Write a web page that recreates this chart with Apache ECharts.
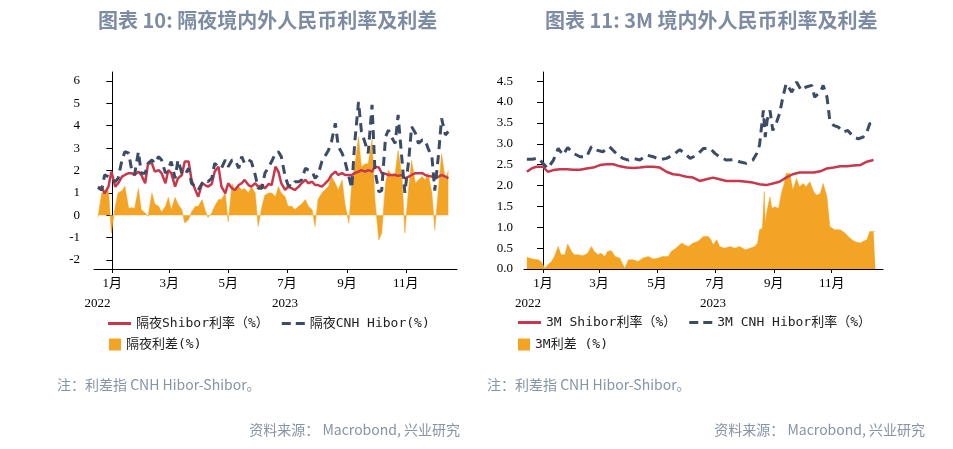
<!DOCTYPE html>
<html>
<head>
<meta charset="utf-8">
<script src="https://cdn.jsdelivr.net/npm/echarts@6/dist/echarts.min.js"></script>
<style>html,body{margin:0;padding:0;background:#fff;}#c{width:953px;height:449px;}</style>
</head>
<body>
<div id="c"></div>
<script>
// x values: days since 2023-01-01
const monthTickDays = [0, 59, 120, 181, 243, 304];
const monthTickLabels = ['1月', '3月', '5月', '7月', '9月', '11月'];

// ---- Chart 10: overnight ----
const onDays = [-15,-11,-8,-4,-1,3,6,10,13,17,20,23,27,30,34,37,41,44,48,51,55,58,61,65,68,72,75,79,82,86,89,93,96,99,103,106,110,113,117,120,124,127,131,134,137,141,144,148,151,155,158,162,165,169,172,175,179,182,186,189,193,196,200,203,207,210,213,217,220,224,227,231,234,238,241,245,248,251,255,258,262,265,269,272,276,279,283,286,289,293,296,300,303,307,310,314,317,321,324,327,331,334,338,341,345,348];
const onShibor = [1.24,1.24,0.98,1.28,1.95,1.28,1.43,1.73,1.80,1.88,
  1.88,1.80,1.95,1.80,1.43,2.32,2.32,1.95,2.02,1.88,
  1.43,2.02,1.88,1.28,1.65,1.80,2.40,2.40,1.58,1.13,
  0.83,1.43,1.35,1.28,1.40,1.95,2.17,1.28,0.98,1.43,
  1.20,1.13,1.35,1.43,1.58,1.35,1.28,1.43,1.28,1.35,
  1.20,1.40,1.35,2.17,1.95,1.43,1.13,1.28,1.20,1.13,
  1.28,1.43,1.58,1.43,1.50,1.35,1.35,1.28,1.40,1.58,
  1.80,1.95,1.80,1.88,1.80,1.80,1.80,1.88,1.95,2.02,
  1.95,2.02,1.95,2.17,2.14,1.88,1.85,1.80,1.80,1.80,
  1.76,1.80,1.65,1.73,1.80,1.88,1.88,1.88,1.80,1.76,
  1.73,1.65,1.73,1.80,1.73,1.65];
const onHibor = [1.24,1.13,1.80,1.73,1.65,1.50,1.65,2.47,2.84,2.77,
  2.02,1.80,2.84,1.88,1.88,2.32,2.47,2.32,2.62,2.47,
  1.88,2.10,2.40,1.65,2.47,1.88,1.80,2.10,1.43,1.28,
  1.13,1.43,1.58,1.50,1.65,2.32,2.17,2.10,2.47,2.17,
  2.47,2.47,2.10,2.62,2.32,2.47,2.40,1.80,1.21,1.21,
  1.88,2.17,2.40,2.77,2.84,2.62,1.73,1.35,1.28,1.50,
  1.50,1.58,2.10,2.02,1.95,1.65,1.80,2.40,2.62,2.92,
  3.29,4.11,3.07,2.77,2.40,1.73,1.21,3.21,5.07,3.74,
  3.21,2.77,4.93,2.00,1.05,1.10,3.51,3.81,3.51,3.21,
  4.48,2.47,1.00,2.47,3.96,3.66,3.21,3.36,3.36,2.99,
  2.62,1.10,2.77,4.33,3.59,3.74];
const onSpread = [-0.10,1.00,1.00,1.10,-0.80,0.40,1.00,1.10,1.30,0.30,
  0.35,0.30,1.20,0.25,0.10,-0.05,1.00,0.50,0.40,0.15,
  0.40,0.80,0.25,0.80,0.50,0.25,-0.35,-0.20,0.15,0.40,
  0.40,0.70,0.25,-0.10,0.10,0.40,0.70,0.70,1.00,-0.30,
  1.40,1.13,1.28,1.13,1.20,1.00,1.28,1.00,-0.50,0.40,
  0.90,1.00,1.00,0.83,1.28,1.00,0.83,0.40,0.40,0.25,
  0.40,0.50,0.70,0.40,0.25,-0.50,0.70,1.00,1.13,1.28,
  1.73,1.43,1.13,1.58,0.50,-0.35,1.43,2.17,3.50,2.17,
  2.30,2.30,3.37,0.70,-1.10,-0.80,1.43,2.02,1.80,1.88,
  2.90,1.73,-0.80,1.28,2.45,1.43,1.58,1.73,1.58,1.88,
  1.00,-0.65,1.28,2.75,1.58,2.00];
const onYTicks = [-2, -1, 0, 1, 2, 3, 4, 5, 6];

// ---- Chart 11: 3M ----
const m3ShiborDays = [-17,-12,-7,0,5,11,18,25,32,39,46,53,60,67,74,81,88,95,102,109,116,123,130,137,144,151,158,165,172,179,186,193,200,207,214,221,228,235,242,249,256,263,270,277,285,292,299,306,313,320,327,334,341,348];
const m3Shibor = [2.33,2.41,2.45,2.45,2.33,2.37,2.39,2.39,2.38,2.38,2.41,2.43,2.49,2.51,2.51,2.46,2.43,2.42,2.43,2.45,2.45,2.43,2.33,2.27,2.25,2.21,2.19,2.11,2.15,2.19,2.15,2.11,2.11,2.11,2.09,2.07,2.03,2.01,2.05,2.09,2.19,2.27,2.31,2.31,2.31,2.34,2.41,2.43,2.46,2.46,2.48,2.49,2.57,2.61];
const m3HiborDays = [-17,-11,-5,0,5,11,16,21,26,32,39,46,51,56,63,70,77,84,90,95,102,109,116,123,130,137,144,149,155,162,169,176,181,186,193,200,207,214,221,225,228,232,234,236,239,242,246,249,253,256,262,267,272,277,283,286,292,295,299,302,306,311,316,321,327,332,337,341,344,350];
const m3Hibor = [2.63,2.63,2.66,2.53,2.41,2.61,2.89,2.73,2.91,2.77,
  2.69,2.69,2.93,2.85,2.81,2.93,2.77,2.65,2.61,2.65,
  2.61,2.73,2.69,2.62,2.65,2.73,2.86,2.77,2.65,2.73,
  2.89,2.89,2.77,2.69,2.61,2.62,2.57,2.53,2.61,2.77,
  2.97,3.80,3.16,3.56,3.80,3.32,3.52,3.72,4.16,4.44,
  4.24,4.48,4.28,4.36,4.40,4.12,4.24,4.40,4.12,3.56,
  3.44,3.40,3.28,3.32,3.16,3.12,3.16,3.28,3.48,3.52];
const m3SpreadDays = [-17,-11,-5,-2,2,5,9,12,16,19,23,26,30,33,37,42,47,51,54,58,61,65,68,72,76,81,86,90,95,100,105,111,116,121,126,132,135,140,146,149,153,158,163,169,174,177,179,183,186,191,197,202,207,213,218,223,226,228,231,233,234,236,239,241,244,248,251,254,256,260,263,267,270,274,277,281,285,288,292,295,299,302,307,313,318,323,328,334,337,341,344,348,350];
const m3Spread = [0.28,0.24,0.22,0.18,0.02,0.10,0.18,0.30,0.54,0.34,
  0.34,0.60,0.42,0.34,0.34,0.32,0.38,0.54,0.42,0.34,
  0.38,0.30,0.42,0.44,0.30,0.26,0.02,0.22,0.22,0.18,
  0.26,0.30,0.24,0.26,0.30,0.30,0.42,0.50,0.62,0.58,
  0.54,0.62,0.66,0.78,0.78,0.70,0.58,0.70,0.54,0.50,
  0.54,0.50,0.54,0.46,0.50,0.54,0.62,0.94,0.98,1.85,
  1.10,1.41,1.73,1.45,1.49,1.45,1.81,2.05,2.29,2.29,
  1.89,2.17,1.97,2.05,1.97,2.09,1.85,1.77,1.81,2.05,
  1.73,1.02,0.94,0.94,0.86,0.74,0.66,0.62,0.66,0.70,
  0.90,0.90,0.90];
const m3YTicks = [0, 0.5, 1, 1.5, 2, 2.5, 3, 3.5, 4, 4.5];

const RED = '#c8374b', NAVY = '#3d4c66', ORANGE = '#f3a425';
const AXIS_FONT = "'Liberation Serif', 'Noto Sans CJK SC', serif";
const LEG_FONT = "'DejaVu Sans Mono', 'Noto Sans CJK SC', monospace";
const pair = (xs, ys) => xs.map((x, i) => [x, ys[i]]);
const dashIcon = 'path://M0 0H9V3H0Z M14 0H23V3H14Z';

function xAxis(gi, min, max) {
  return {
    type: 'value', gridIndex: gi, min: min, max: max,
    axisLine: { onZero: false, lineStyle: { color: '#000', width: 1 } },
    axisTick: { show: true, length: 4, customValues: monthTickDays, lineStyle: { color: '#000' } },
    axisLabel: { customValues: monthTickDays, margin: 8, fontSize: 13, color: '#000', fontFamily: AXIS_FONT,
      formatter: v => monthTickLabels[monthTickDays.indexOf(v)] || '' },
    splitLine: { show: false }
  };
}
function yAxis(gi, min, max, ticks, fmt, margin) {
  return {
    type: 'value', gridIndex: gi, min: min, max: max,
    axisLine: { show: true, lineStyle: { color: '#000', width: 1 } },
    axisTick: { show: true, length: 6, customValues: ticks, lineStyle: { color: '#000' } },
    axisLabel: { customValues: ticks, margin: margin, fontSize: 13, color: '#000', fontFamily: AXIS_FONT, formatter: fmt },
    splitLine: { show: false }
  };
}
function legendBox(left, top, items, w, h) {
  return { left: left, top: top, orient: 'horizontal', itemGap: 13, itemWidth: w, itemHeight: h,
    textStyle: { fontFamily: LEG_FONT, fontSize: 13, color: '#222', padding: [0, 0, 0, 0] },
    data: items };
}
function txt(x, y, s, opt) {
  return Object.assign({ type: 'text', x: x, y: y, style: Object.assign({ text: s, textVerticalAlign: 'middle' }, opt) });
}

const chart = echarts.init(document.getElementById('c'), null, { renderer: 'canvas' });
chart.setOption({
  animation: false,
  backgroundColor: '#fff',
  grid: [
    { left: 94, right: 496, top: 72, bottom: 180 },
    { left: 524, right: 70, top: 72, bottom: 180 }
  ],
  xAxis: [xAxis(0, -19, 357), xAxis(1, -20, 358)],
  yAxis: [
    yAxis(0, -2.4, 6.4, onYTicks, v => String(v), 14),
    yAxis(1, 0, 4.72, m3YTicks, v => v.toFixed(1), 11)
  ],
  legend: [
    legendBox(103, 312, [{ name: '隔夜Shibor利率（%）', icon: 'rect' }, { name: '隔夜CNH Hibor(%)', icon: dashIcon }], 23, 3),
    legendBox(104, 333, [{ name: '隔夜利差(%)', icon: 'rect' }], 12, 12),
    legendBox(513, 311, [{ name: '3M Shibor利率（%）', icon: 'rect' }, { name: '3M CNH Hibor利率（%）', icon: dashIcon }], 23, 3),
    legendBox(513, 333, [{ name: '3M利差 (%)', icon: 'rect' }], 12, 12)
  ],
  series: [
    { name: '隔夜利差(%)', type: 'line', xAxisIndex: 0, yAxisIndex: 0, data: pair(onDays, onSpread), color: ORANGE,
      symbol: 'none', lineStyle: { width: 0.5, color: ORANGE }, areaStyle: { color: ORANGE, opacity: 1, origin: 0 }, z: 1 },
    { name: '隔夜Shibor利率（%）', type: 'line', xAxisIndex: 0, yAxisIndex: 0, data: pair(onDays, onShibor), color: RED,
      symbol: 'none', lineStyle: { width: 2.5, color: RED }, z: 2 },
    { name: '隔夜CNH Hibor(%)', type: 'line', xAxisIndex: 0, yAxisIndex: 0, data: pair(onDays, onHibor), color: NAVY,
      symbol: 'none', lineStyle: { width: 3, color: NAVY, type: [9, 6], cap: 'butt' }, z: 3 },
    { name: '3M利差 (%)', type: 'line', xAxisIndex: 1, yAxisIndex: 1, data: pair(m3SpreadDays, m3Spread), color: ORANGE,
      symbol: 'none', lineStyle: { width: 0.5, color: ORANGE }, areaStyle: { color: ORANGE, opacity: 1, origin: 0 }, z: 1 },
    { name: '3M Shibor利率（%）', type: 'line', xAxisIndex: 1, yAxisIndex: 1, data: pair(m3ShiborDays, m3Shibor), color: RED,
      symbol: 'none', lineStyle: { width: 2.5, color: RED }, z: 2 },
    { name: '3M CNH Hibor利率（%）', type: 'line', xAxisIndex: 1, yAxisIndex: 1, data: pair(m3HiborDays, m3Hibor), color: NAVY,
      symbol: 'none', lineStyle: { width: 3, color: NAVY, type: [9, 6], cap: 'butt' }, z: 3 }
  ],
  graphic: [
    txt(98, 20, '图表 10: 隔夜境内外人民币利率及利差', { font: "bold 20px 'Noto Sans CJK SC'", fill: '#7d8ca2' }),
    txt(545, 20, '图表 11: 3M 境内外人民币利率及利差', { font: "bold 20px 'Noto Sans CJK SC'", fill: '#7d8ca2' }),
    txt(97.5, 304, '2022', { font: "13px 'Liberation Serif'", fill: '#000', textAlign: 'center' }),
    txt(285, 304, '2023', { font: "13px 'Liberation Serif'", fill: '#000', textAlign: 'center' }),
    txt(528, 304, '2022', { font: "13px 'Liberation Serif'", fill: '#000', textAlign: 'center' }),
    txt(713, 304, '2023', { font: "13px 'Liberation Serif'", fill: '#000', textAlign: 'center' }),
    txt(57, 385, '注：利差指 CNH Hibor-Shibor。', { font: "14px 'Noto Sans CJK SC'", fill: '#8793a6' }),
    txt(487, 385, '注：利差指 CNH Hibor-Shibor。', { font: "14px 'Noto Sans CJK SC'", fill: '#8793a6' }),
    txt(460, 430, '资料来源： Macrobond, 兴业研究', { font: "14px 'Noto Sans CJK SC'", fill: '#8793a6', textAlign: 'right' }),
    txt(925, 430, '资料来源： Macrobond, 兴业研究', { font: "14px 'Noto Sans CJK SC'", fill: '#8793a6', textAlign: 'right' })
  ]
});
</script>
</body>
</html>
